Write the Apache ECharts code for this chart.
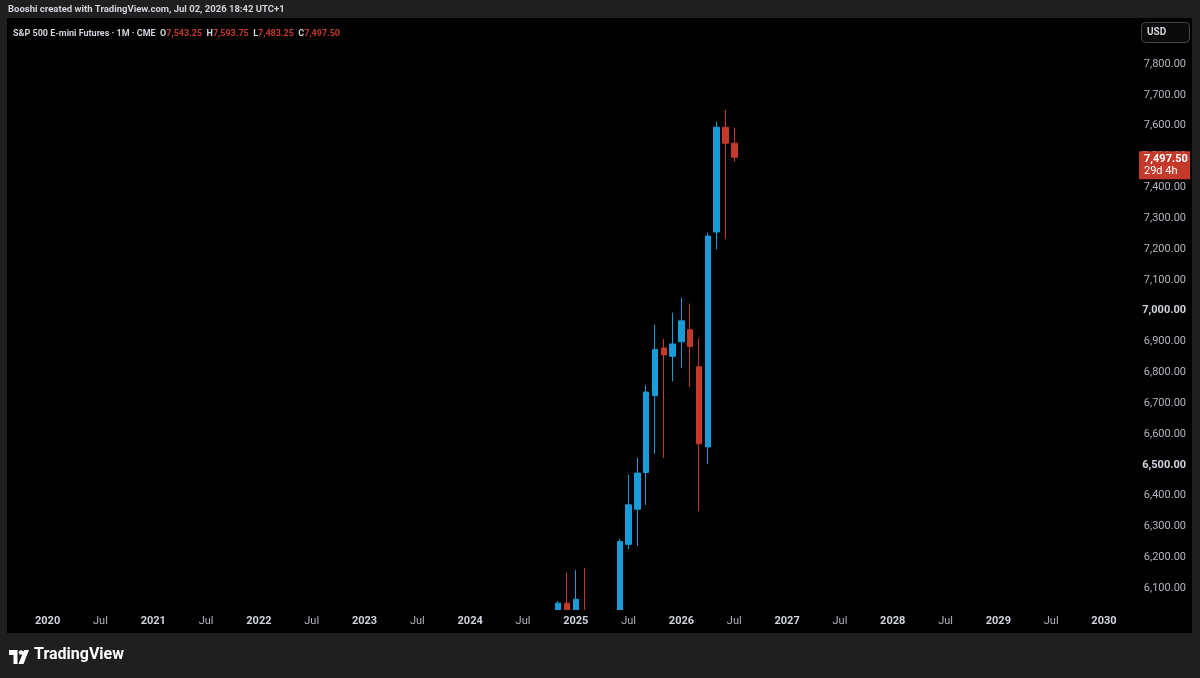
<!DOCTYPE html>
<html>
<head>
<meta charset="utf-8">
<script src="https://cdn.jsdelivr.net/npm/echarts@6/dist/echarts.min.js"></script>
<style>
html,body{margin:0;padding:0;background:#1f1f1f;}
#chart{width:1200px;height:678px;}
</style>
</head>
<body>
<div id="chart"></div>
<script>
// ---- data ----
const candleMonths = ['2024-11','2024-12','2025-01','2025-02','2025-03','2025-04','2025-05','2025-06','2025-07','2025-08','2025-09','2025-10','2025-11','2025-12','2026-01','2026-02','2026-03','2026-04','2026-05','2026-06','2026-07'];
const openVals  = [5728, 6051, 5906, 6020, 5960, 5650, 5590, 5935, 6242, 6356, 6475, 6724, 6879, 6852, 6899, 6938, 6818, 6558, 7255, 7595, 7543.25];
const closeVals = [6051, 5906, 6064, 5960, 5650, 5590, 5935, 6251, 6370, 6473, 6736, 6874, 6856, 6892, 6967, 6884, 6568, 7242, 7595, 7543, 7497.50];
const lowVals   = [5700, 5850, 5808, 5860, 5530, 4830, 5570, 5800, 6226, 6237, 6370, 6536, 6522, 6771, 6814, 6753, 6350, 6503, 7199, 7233, 7483.25];
const highVals  = [6058, 6150, 6159, 6166, 5990, 5700, 5990, 6259, 6467, 6522, 6758, 6954, 6908, 6993, 7042, 7023, 6910, 7253, 7612, 7651, 7593.75];
const remainingTime = '29d 4h';
const monthNames = ['Jan','Feb','Mar','Apr','May','Jun','Jul','Aug','Sep','Oct','Nov','Dec'];

// axis categories: every month from Sep 2019 to Mar 2030
const categories = [];
for (let y = 2019, m = 9; !(y === 2030 && m === 4); ) {
  categories.push(y + '-' + String(m).padStart(2, '0'));
  m++; if (m > 12) { m = 1; y++; }
}

const UP = '#1a9bd7', DOWN = '#c5392b';

const candleData = categories.map(c => {
  const i = candleMonths.indexOf(c);
  return i < 0 ? '-' : [openVals[i], closeVals[i], lowVals[i], highVals[i]];
});

const fmt = v => Number(v).toLocaleString('en-US', {minimumFractionDigits: 2, maximumFractionDigits: 2});
const last = candleMonths.length - 1;
const lastClose = closeVals[last];

const chart = echarts.init(document.getElementById('chart'));
chart.setOption({
  backgroundColor: '#1f1f1f',
  animation: false,
  textStyle: {fontFamily: 'Roboto'},
  title: {
    left: 8, top: 20, z: 10,
    text: '{n|S&P 500 E-mini Futures · 1M · CME} {k|O}{v|' + fmt(openVals[last]) + '} {k|H}{v|' + fmt(highVals[last]) + '} {k|L}{v|' + fmt(lowVals[last]) + '} {k|C}{v|' + fmt(closeVals[last]) + '}',
    textStyle: {
      rich: {
        n: {color: '#d1d4dc', fontSize: 9, fontFamily: 'Roboto'},
        k: {color: '#d1d4dc', fontSize: 9, fontFamily: 'Roboto'},
        v: {color: DOWN, fontSize: 9, fontFamily: 'Roboto'}
      }
    }
  },
  grid: {left: 8, right: 74, top: 19, bottom: 68, containLabel: false},
  xAxis: {
    type: 'category',
    z: 10,
    data: categories,
    boundaryGap: true,
    axisLine: {show: false},
    axisTick: {show: false},
    splitLine: {show: false},
    axisLabel: {
      interval: (idx, val) => val.endsWith('-01') || val.endsWith('-07'),
      margin: 6,
      formatter: val => {
        const [y, m] = val.split('-');
        return m === '01' ? '{y|' + y + '}' : '{m|' + monthNames[+m - 1] + '}';
      },
      rich: {
        y: {color: '#d1d4dc', fontSize: 11, fontWeight: 'bold', fontFamily: 'Roboto'},
        m: {color: '#b2b5be', fontSize: 11, fontFamily: 'Roboto'}
      }
    }
  },
  yAxis: {
    type: 'value',
    position: 'right',
    min: 6029,
    max: 7946,
    splitNumber: 19,
    scale: true,
    axisLine: {show: false},
    axisTick: {show: false},
    splitLine: {show: false},
    axisLabel: {
      showMinLabel: false,
      showMaxLabel: false,
      align: 'right',
      margin: 60,
      formatter: v => (v % 500 === 0 ? '{b|' : '{r|') + fmt(v) + '}',
      rich: {
        r: {color: '#b2b5be', fontSize: 11, fontFamily: 'Roboto'},
        b: {color: '#d1d4dc', fontSize: 11, fontWeight: 'bold', fontFamily: 'Roboto'}
      }
    }
  },
  series: [{
    type: 'candlestick',
    data: candleData,
    barWidth: 6,
    clip: true,
    itemStyle: {
      color: UP, color0: DOWN,
      borderColor: UP, borderColor0: DOWN,
      borderWidth: 1
    },
    markLine: {
      symbol: 'none',
      silent: true,
      z: 20,
      lineStyle: {color: 'rgba(0,0,0,0)', width: 1, type: 'solid'},
      data: [{yAxis: lastClose}],
      label: {
        show: true,
        position: 'end',
        distance: 13,
        offset: [0, 8],
        backgroundColor: DOWN,
        padding: [2, 5, 2, 5],
        width: 41,
        formatter: '{p|' + fmt(lastClose) + '}\n{t|' + remainingTime + '}',
        rich: {
          p: {color: '#ffffff', fontSize: 11, fontWeight: 'bold', lineHeight: 12, fontFamily: 'Roboto'},
          t: {color: '#ffffff', fontSize: 11, lineHeight: 12, fontFamily: 'Roboto'}
        }
      }
    }
  }],
  graphic: [
    {type: 'rect', z: -100, silent: true, shape: {x: 7, y: 18, width: 1185, height: 615}, style: {fill: '#000000'}},
    // keep candles inside the price pane (time-scale strip and page footer drawn over them)
    {type: 'rect', z: 5, silent: true, shape: {x: 7, y: 610, width: 1185, height: 23}, style: {fill: '#000000'}},
    {type: 'rect', z: 5, silent: true, shape: {x: 0, y: 633, width: 1200, height: 45}, style: {fill: '#1f1f1f'}},
    {type: 'text', left: 8, top: 5, z: 10, style: {text: 'Booshi created with TradingView.com, Jul 02, 2026 18:42 UTC+1', fill: '#d1d4dc', font: 'bold 9.5px Roboto'}},
    {type: 'rect', z: 10, shape: {x: 1141.5, y: 22.5, width: 48, height: 20, r: 4}, style: {fill: '#0a0a0a', stroke: '#434651', lineWidth: 1}},
    {type: 'text', z: 11, left: 1147, top: 27, style: {text: 'USD', fill: '#d1d4dc', font: 'bold 10px Roboto'}},
    // TradingView logo
    {type: 'polygon', z: 10, shape: {points: [[9,650],[17.5,650],[17.5,664],[13.5,664],[13.5,655],[9,655]]}, style: {fill: '#ffffff'}},
    {type: 'circle', z: 10, shape: {cx: 21, cy: 652.5, r: 2.3}, style: {fill: '#ffffff'}},
    {type: 'polygon', z: 10, shape: {points: [[24,650],[29,650],[23.5,664],[18.5,664]]}, style: {fill: '#ffffff'}},
    {type: 'text', z: 10, left: 34, top: 647, style: {text: 'TradingView', fill: '#ffffff', font: 'bold 16px Roboto'}}
  ]
});
</script>
</body>
</html>
